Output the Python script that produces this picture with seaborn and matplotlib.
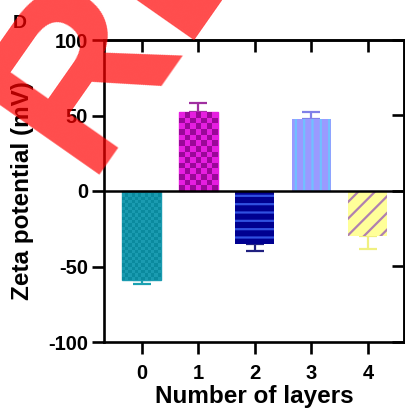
import numpy as np
import pandas as pd
import matplotlib
matplotlib.use("Agg")
import matplotlib.pyplot as plt
import seaborn as sns

# ---- data ----
layers = ["0", "1", "2", "3", "4"]
zeta = [-59, 52, -35, 48, -30]
zeta_err = [2.5, 6, 5, 4.5, 8.5]
y_ticks = [-100, -50, 0, 50, 100]

# ---- styles ----
face_colors = ["#0a8a9e", "#9a0898", "#000090", "#9a9aff", "#ffff99"]
alt_colors = ["#1a9bb0", "#e61ee0", None, None, None]
hatch_colors = [None, None, "#3050e0", "#70c0ff", "#b080b0"]
hatches = [None, None, "--", "||", "//"]
err_colors = ["#1aa0b0", "#a030a0", "#202080", "#8080e8", "#f0f080"]
checker_px = [3.3, 5.7, None, None, None]

sns.set_theme(style="white")
plt.rcParams["font.family"] = ["Liberation Sans", "DejaVu Sans"]
plt.rcParams["font.weight"] = "bold"
plt.rcParams["hatch.linewidth"] = 1.6

fig = plt.figure(figsize=(4.06, 4.16), dpi=100)
ax = fig.add_axes([104 / 406, 1 - 342 / 416, (404 - 104) / 406, (342 - 40) / 416])

df = pd.DataFrame({"layers": layers, "zeta": zeta})
sns.barplot(data=df, x="layers", y="zeta", hue="layers", palette=face_colors,
            width=0.69, errorbar=None, legend=False, ax=ax, saturation=1)

ax.set_xlim(-0.67, 4.64)
ax.set_ylim(-100, 100)

patches = ax.patches[:len(layers)]
for i, p in enumerate(patches):
    p.set_zorder(2)
    if hatches[i]:
        p.set_facecolor(face_colors[i])
        p.set_edgecolor(hatch_colors[i])
        p.set_hatch(hatches[i])
        p.set_linewidth(0)
    else:
        p.set_facecolor(face_colors[i])
        p.set_edgecolor(alt_colors[i])
        p.set_linewidth(1.0)

# checker textures
for i, p in enumerate(patches):
    if checker_px[i] is None:
        continue
    x0 = p.get_x(); x1 = x0 + p.get_width()
    ya, yb = sorted([p.get_y(), p.get_y() + p.get_height()])
    (px0, py0), (px1, py1) = ax.transData.transform([(x0, ya), (x1, yb)])
    nx = max(2, int(round(abs(px1 - px0) / checker_px[i])))
    ny = max(2, int(round(abs(py1 - py0) / checker_px[i])))
    ii, jj = np.indices((ny, nx))
    pat = (ii + jj) % 2
    c1 = np.array(matplotlib.colors.to_rgb(face_colors[i]))
    c2 = np.array(matplotlib.colors.to_rgb(alt_colors[i]))
    img = np.where(pat[..., None] == 1, c2, c1)
    im = ax.imshow(img, extent=(x0, x1, ya, yb), origin="lower",
                   interpolation="nearest", aspect="auto", zorder=2.1)
    im.set_clip_path(p)

ax.set_xlim(-0.67, 4.64)
ax.set_ylim(-100, 100)

# error bars (away from zero)
for i, p in enumerate(patches):
    xc = p.get_x() + p.get_width() / 2
    v = zeta[i]
    lo = zeta_err[i] if v < 0 else 0
    hi = zeta_err[i] if v > 0 else 0
    ax.errorbar([xc], [v], yerr=[[lo], [hi]], fmt="none", ecolor=err_colors[i],
                elinewidth=1.6, capsize=6.2, capthick=1.6, zorder=1.5)

ax.axhline(0, color="black", lw=1.8, zorder=3)

for s in ax.spines.values():
    s.set_visible(True)
    s.set_color("black")
    s.set_linewidth(1.9)

ax.set_yticks(y_ticks)
ax.set_yticklabels([str(t) for t in y_ticks])
ax.tick_params(axis="both", which="major", direction="out", length=8.6, width=1.9,
               color="black", labelsize=14.5, labelcolor="black")
ax.tick_params(axis="y", pad=3)
ax.tick_params(axis="x", pad=7)
ax.tick_params(left=True, bottom=True)
for lab in ax.get_xticklabels() + ax.get_yticklabels():
    lab.set_fontweight("bold")

# mirrored inward ticks on top and right
sx = ax.secondary_xaxis("top")
sx.set_xticks(ax.get_xticks())
sx.tick_params(direction="in", length=8.6, width=1.9, labeltop=False, color="black")
sx.spines["top"].set_linewidth(1.9)
sy = ax.secondary_yaxis("right")
sy.set_yticks(y_ticks)
sy.tick_params(direction="in", length=8.6, width=1.9, labelright=False, color="black")
sy.spines["right"].set_linewidth(1.9)

ax.set_xlabel("Number of layers", fontsize=17.5, fontweight="bold", color="black", labelpad=2)
ax.set_ylabel("Zeta potential (mV)", fontsize=17.5, fontweight="bold", color="black", labelpad=10)

fig.text(13 / 406, 1 - 28 / 416, "D", fontsize=14, fontweight="bold", color="black")

# red watermark
fig.text(85 / 406, 1 - 175 / 416, "RETRACTED", fontsize=165, fontweight="bold",
         color="red", alpha=0.7, rotation=55, rotation_mode="anchor",
         ha="left", va="baseline", zorder=10)

fig.savefig("out.png", dpi=100)
